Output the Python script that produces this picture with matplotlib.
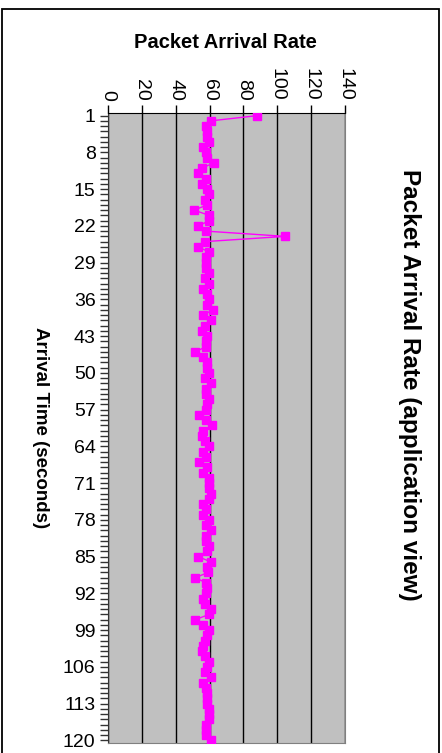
import numpy as np
import matplotlib
matplotlib.use("Agg")
import matplotlib.pyplot as plt
from matplotlib.patches import Rectangle

plt.rcParams['font.family'] = ['Liberation Sans', 'DejaVu Sans']

# arrival time (seconds) and packet arrival rate
seconds = list(range(1, 121))
rate = [88.2, 60.6, 57.9, 58.7, 58.7, 59.8, 56.3, 57.9, 58.7, 62.6,
        55.3, 53.4, 57.9, 55.3, 58.7, 59.8, 57.1, 58.7, 50.8, 59.8,
        59.8, 53.4, 57.9, 104.7, 57.1, 53.4, 59.8, 57.9, 57.9, 57.9,
        59.8, 57.1, 59.8, 56.3, 58.7, 59.8, 58.7, 61.8, 56.3, 60.6,
        57.1, 55.3, 58.7, 57.9, 57.9, 51.6, 56.3, 58.7, 58.7, 59.8,
        57.1, 60.6, 57.9, 57.9, 59.8, 58.7, 57.9, 53.9, 57.9, 61.4,
        56.3, 55.3, 57.1, 59.8, 56.3, 57.9, 53.9, 58.7, 56.3, 59.8,
        59.8, 59.8, 60.6, 59.8, 56.3, 57.9, 56.3, 59.8, 57.9, 60.6,
        57.9, 57.9, 59.8, 58.7, 53.4, 60.6, 58.7, 59.3, 51.6, 57.9,
        58.7, 57.9, 56.3, 57.1, 60.6, 59.8, 51.6, 56.3, 59.8, 58.7,
        57.1, 56.3, 55.3, 57.1, 59.8, 58.7, 57.1, 60.6, 56.3, 57.9,
        58.7, 58.7, 58.7, 59.8, 59.8, 59.8, 57.9, 57.9, 57.9, 60.6]
rate_ticks = [0, 20, 40, 60, 80, 100, 120, 140]
time_labels = seconds[::7]

fig = plt.figure(figsize=(4.42, 7.53), dpi=100)
ax = fig.add_axes([108 / 442, 10 / 753, 237 / 442, 630 / 753])
ax.set_facecolor('#c0c0c0')

ax.plot(rate, seconds, color='#ff00ff', lw=1, marker='s', ms=5.3,
        mec='#ff00ff', mfc='#ff00ff', zorder=3)

ax.set_xlim(0, 140)
ax.set_ylim(120.5, 0.5)
ax.xaxis.tick_top()
ax.set_xticks(rate_ticks)
ax.set_xticklabels([str(t) for t in rate_ticks], rotation=-90, fontsize=14)
ax.set_yticks(time_labels)
ax.set_yticklabels([str(t) for t in time_labels], fontsize=14)
ax.set_yticks(seconds, minor=True)
ax.tick_params(axis='y', which='both', direction='out', length=6, width=1,
               pad=3, color='#333333')
ax.tick_params(axis='x', direction='out', length=6, width=1, pad=3)
ax.grid(axis='x', color='black', lw=1)
ax.set_axisbelow(True)
for side in ['left', 'right', 'bottom']:
    ax.spines[side].set_color('#808080')
ax.spines['top'].set_color('black')
ax.spines['left'].set_color('#333333')

fig.text(225 / 442, 1 - 43 / 753, 'Packet Arrival Rate', ha='center',
         va='center', fontsize=14.5, fontweight='bold')
fig.text(409 / 442, 1 - 385 / 753, 'Packet Arrival Rate (application view)',
         ha='center', va='center', rotation=-90, fontsize=17.5,
         fontweight='bold')
fig.text(40 / 442, 1 - 428 / 753, 'Arrival Time (seconds)', ha='center',
         va='center', rotation=-90, fontsize=13.5, fontweight='bold')

# outer chart border (runs past the bottom edge)
fig.patches.append(Rectangle((2 / 442, -0.05), 437 / 442, 1 - 9 / 753 + 0.05,
                             transform=fig.transFigure, fill=False,
                             edgecolor='black', lw=1.3))

fig.savefig('out.png', dpi=100)
